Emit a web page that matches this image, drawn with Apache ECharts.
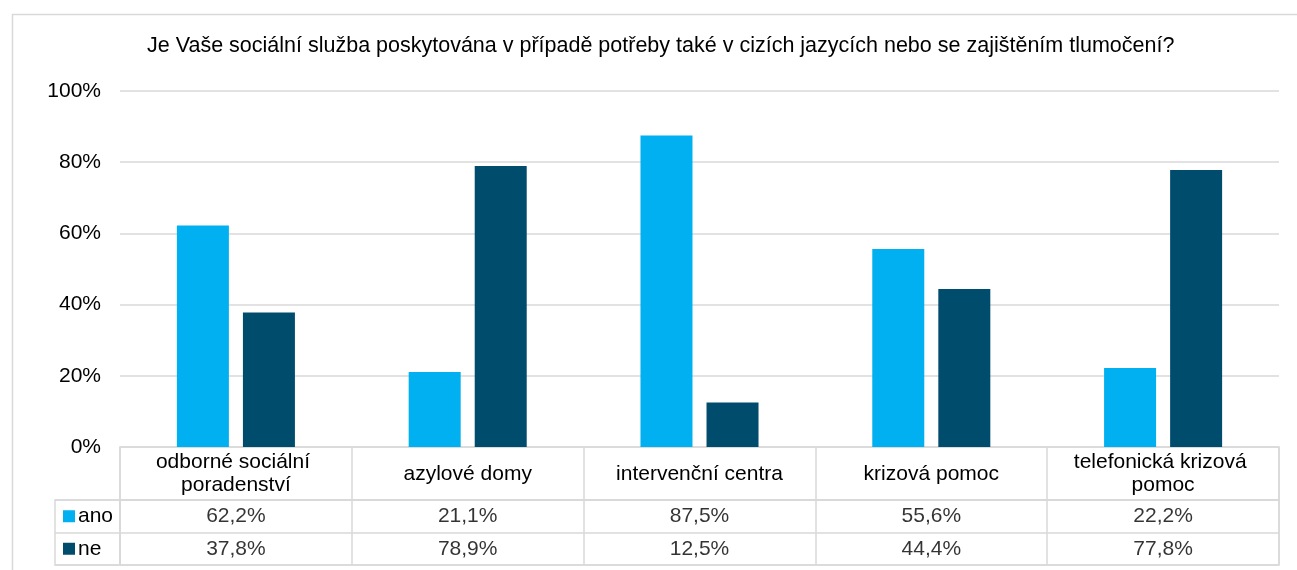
<!DOCTYPE html>
<html>
<head>
<meta charset="utf-8">
<script src="https://cdn.jsdelivr.net/npm/echarts@6/dist/echarts.min.js"></script>
<style>
html,body{margin:0;padding:0;background:#fff;}
#c{width:1297px;height:570px;}
</style>
</head>
<body>
<div id="c"></div>
<script>
const titleText = 'Je Vaše sociální služba poskytována v případě potřeby také v cizích jazycích nebo se zajištěním tlumočení?';
const categories = ['odborné sociální poradenství', 'azylové domy', 'intervenční centra', 'krizová pomoc', 'telefonická krizová pomoc'];
const seriesNames = ['ano', 'ne'];
const anoValues = [62.2, 21.1, 87.5, 55.6, 22.2];
const neValues = [37.8, 78.9, 12.5, 44.4, 77.8];
const yTicks = [0, 20, 40, 60, 80, 100];

const colors = ['#00B0F0', '#004C6D'];
const lineColor = '#d9d9d9';
const font = 'Liberation Sans, Arial, sans-serif';
const fs = 21;
const fmt = v => v.toFixed(1).replace('.', ',') + '%';

const L = 120, W = 1159;
const chart = echarts.init(document.getElementById('c'), null, {renderer: 'canvas'});
const seriesValues = [anoValues, neValues];

chart.setOption({
  animation: false,
  backgroundColor: '#fff',
  textStyle: {fontFamily: font, color: '#000'},
  title: {
    text: titleText, left: 142, top: 30,
    textStyle: {fontFamily: font, fontSize: 21.5, fontWeight: 'normal', color: '#000'}
  },
  graphic: [{
    type: 'rect', left: 10, top: 12, shape: {width: 1320, height: 620}, silent: true,
    style: {fill: 'none', stroke: lineColor, lineWidth: 1.5}
  }],
  grid: [
    {left: L, width: W, top: 91, height: 356},
    {left: L, width: W, top: 447, height: 53, show: true, borderColor: lineColor, borderWidth: 1.5},
    {left: L, width: W, top: 500, height: 65, show: true, borderColor: lineColor, borderWidth: 1.5},
    {left: 55, width: 65, top: 500, height: 65, show: true, borderColor: lineColor, borderWidth: 1.5}
  ],
  xAxis: [
    {gridIndex: 0, type: 'category', data: categories, axisLine: {show: false}, axisTick: {show: false}, axisLabel: {show: false}},
    {gridIndex: 1, type: 'category', data: categories, position: 'top',
      axisLine: {show: false}, axisTick: {show: false},
      splitLine: {show: true, lineStyle: {color: lineColor, width: 1.5}},
      axisLabel: {show: true, inside: true, margin: 27, verticalAlign: 'middle', interval: 0,
        width: 220, overflow: 'break', fontSize: fs, fontFamily: font, color: '#000', lineHeight: 23, align: 'center'}},
    {gridIndex: 2, type: 'category', data: categories,
      axisLine: {show: false}, axisTick: {show: false}, axisLabel: {show: false},
      splitLine: {show: true, lineStyle: {color: lineColor, width: 1.5}}},
    {gridIndex: 3, type: 'value', show: false}
  ],
  yAxis: [
    {gridIndex: 0, type: 'value', min: 0, max: 100, interval: 20,
      axisLine: {show: false}, axisTick: {show: false},
      axisLabel: {formatter: '{value}%', fontSize: fs, fontFamily: font, color: '#000', margin: 19},
      splitLine: {lineStyle: {color: lineColor, width: 1.5}}},
    {gridIndex: 1, type: 'value', show: false, min: 0, max: 1},
    {gridIndex: 2, type: 'category', data: seriesNames, inverse: true,
      axisLine: {show: false}, axisTick: {show: false}, axisLabel: {show: false},
      splitLine: {show: true, lineStyle: {color: lineColor, width: 1.5}}},
    {gridIndex: 3, type: 'category', data: seriesNames, inverse: true,
      axisLine: {show: false}, axisTick: {show: false},
      splitLine: {show: true, lineStyle: {color: lineColor, width: 1.5}},
      axisLabel: {inside: true, margin: 8, align: 'left',
        formatter: (v, i) => '{s' + i + '|}{t|' + v + '}',
        rich: {
          s0: {width: 12, height: 12, backgroundColor: colors[0]},
          s1: {width: 12, height: 12, backgroundColor: colors[1]},
          t: {fontSize: fs, fontFamily: font, color: '#000', padding: [0, 0, 0, 3]}
        }}}
  ],
  series: [
    ...seriesNames.map((name, k) => ({
      name, type: 'bar', xAxisIndex: 0, yAxisIndex: 0,
      data: seriesValues[k], barWidth: 52, barGap: '27%',
      itemStyle: {color: colors[k]}
    })),
    ...seriesNames.map((name, k) => ({
      name: name + '-table', type: 'scatter', xAxisIndex: 2, yAxisIndex: 2,
      symbolSize: 1, itemStyle: {color: 'rgba(0,0,0,0)'}, silent: true,
      data: seriesValues[k].map((v, i) => [i, k, v]),
      label: {show: true, position: 'inside', formatter: p => fmt(p.value[2]),
        fontSize: fs, fontFamily: font, color: '#000'}
    }))
  ]
});
</script>
</body>
</html>
